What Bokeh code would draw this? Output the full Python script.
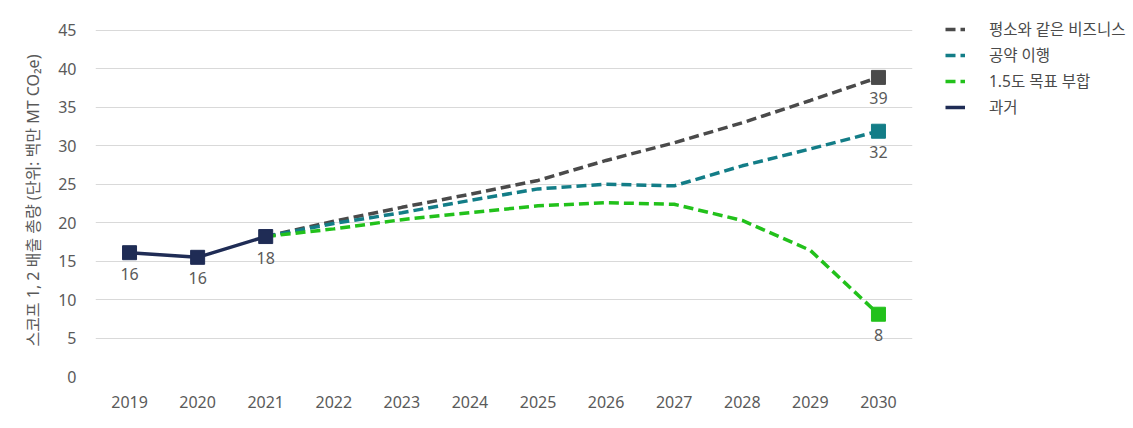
from bokeh.plotting import figure
from bokeh.models import ColumnDataSource, Legend, LegendItem, FixedTicker, Range1d
from bokeh.embed import file_html
from bokeh.resources import INLINE
from bokeh.core.properties import value

years_past = [2019, 2020, 2021]
past_vals = [16.1, 15.5, 18.2]
years_fc = [2021, 2022, 2023, 2024, 2025, 2026, 2027, 2028, 2029, 2030]
bau_vals = [18.2, 20.2, 22.0, 23.7, 25.5, 28.1, 30.4, 33.0, 35.9, 38.9]
pledge_vals = [18.2, 19.9, 21.3, 22.9, 24.4, 25.0, 24.8, 27.4, 29.6, 31.9]
target_vals = [18.2, 19.2, 20.4, 21.3, 22.2, 22.6, 22.4, 20.3, 16.4, 8.1]
series_names = ["평소와 같은 비즈니스", "공약 이행", "1.5도 목표 부합", "과거"]
y_ticks = [0, 5, 10, 15, 20, 25, 30, 35, 40, 45]
x_ticks = list(range(2019, 2031))

FONT = "'Noto Sans', 'Noto Sans CJK KR'"
C_BAU = "#4a4a4a"
C_PLEDGE = "#137d87"
C_TARGET = "#22c11b"
C_PAST = "#1f2c55"
TXT = "#5a5a5a"

p = figure(output_backend="svg", toolbar_location=None,
           frame_width=817, frame_height=356,
           min_border_left=95, min_border_right=220, min_border_top=20, min_border_bottom=40,
           x_range=Range1d(2018.5, 2030.5), y_range=Range1d(0, 46.3))
p.outline_line_color = None
p.background_fill_color = "white"
p.border_fill_color = "white"

p.xgrid.grid_line_color = None
p.ygrid.grid_line_color = "#d9d9d9"
p.ygrid.grid_line_width = 1

for ax in (p.xaxis, p.yaxis):
    ax.axis_line_color = None
    ax.major_tick_line_color = None
    ax.minor_tick_line_color = None
    ax.major_label_text_font = FONT
    ax.major_label_text_font_size = "16px"
    ax.major_label_text_color = TXT

p.yaxis.ticker = FixedTicker(ticks=y_ticks)
p.xaxis.ticker = FixedTicker(ticks=x_ticks)
p.yaxis.major_label_standoff = 13
p.xaxis.major_label_standoff = 13
p.yaxis.axis_label = "스코프 1, 2 배출 총량  (단위: 백만 MT CO₂e)"
p.yaxis.axis_label_text_font = FONT
p.yaxis.axis_label_text_font_size = "16px"
p.yaxis.axis_label_text_font_style = "normal"
p.yaxis.axis_label_text_color = TXT
p.yaxis.axis_label_standoff = 11

src_fc = ColumnDataSource(dict(x=years_fc, bau=bau_vals, pledge=pledge_vals, target=target_vals))
r_bau = p.line("x", "bau", source=src_fc, line_color=C_BAU, line_width=3.5, line_dash="10 5")
r_pledge = p.line("x", "pledge", source=src_fc, line_color=C_PLEDGE, line_width=3.5, line_dash="10 5")
r_target = p.line("x", "target", source=src_fc, line_color=C_TARGET, line_width=3.5, line_dash="10 5")

src_past = ColumnDataSource(dict(x=years_past, y=past_vals, lab=[str(round(v)) for v in past_vals]))
r_past = p.line("x", "y", source=src_past, line_color=C_PAST, line_width=3.5)
p.scatter("x", "y", source=src_past, marker="square", size=14, fill_color=C_PAST, line_color=C_PAST)

end_src = ColumnDataSource(dict(
    x=[years_fc[-1]] * 3,
    y=[bau_vals[-1], pledge_vals[-1], target_vals[-1]],
    c=[C_BAU, C_PLEDGE, C_TARGET],
    lab=[str(round(bau_vals[-1])), str(round(pledge_vals[-1])), str(round(target_vals[-1]))]))
p.scatter("x", "y", source=end_src, marker="square", size=14, fill_color="c", line_color="c")

for s in (src_past, end_src):
    p.text("x", "y", text="lab", source=s, text_font=value(FONT), text_font_size="16px",
           text_color=TXT, text_align="center", text_baseline="middle", y_offset=21)

legend = Legend(items=[
    LegendItem(label=series_names[0], renderers=[r_bau]),
    LegendItem(label=series_names[1], renderers=[r_pledge]),
    LegendItem(label=series_names[2], renderers=[r_target]),
    LegendItem(label=series_names[3], renderers=[r_past]),
], location=(33, 258))
legend.border_line_color = None
legend.background_fill_alpha = 0
legend.padding = 0
legend.margin = 0
legend.spacing = 3
legend.label_height = 22
legend.glyph_height = 22
legend.glyph_width = 20
legend.label_standoff = 24
legend.label_text_font = FONT
legend.label_text_font_size = "15.5px"
legend.label_text_color = "#4a4a4a"
p.add_layout(legend, "right")

open("out.html", "w").write(file_html(p, INLINE))
